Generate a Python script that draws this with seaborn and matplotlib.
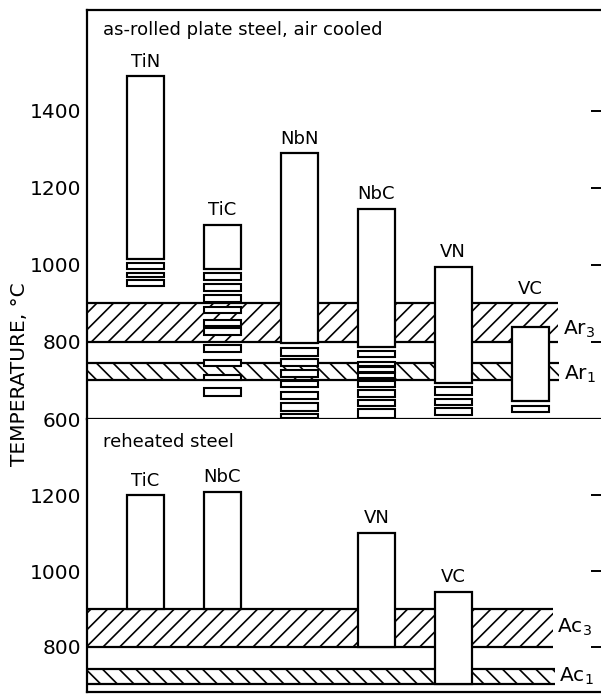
import matplotlib
matplotlib.use("Agg")
from matplotlib import pyplot as plt
import seaborn as sns

# as-rolled plate steel, air cooled
top_names = ["TiN", "TiC", "NbN", "NbC", "VN", "VC"]
top_upper = [1490, 1105, 1290, 1145, 995, 840]
top_lower = [1015, 990, 797, 787, 693, 648]
top_stripes = {
	"TiN": [(990, 1005), (969, 979), (945, 961)],
	"TiC": [(960, 979), (932, 951), (904, 922), (875, 891), (842, 857),
			(818, 836), (774, 792), (738, 753), (701, 714), (660, 681)],
	"NbN": [(764, 784), (738, 756), (709, 727), (683, 699), (652, 670), (621, 642), (602, 613)],
	"NbC": [(761, 777), (738, 748), (722, 735), (706, 720), (683, 699), (657, 675), (634, 649), (603, 626)],
	"VN": [(662, 683), (636, 652), (610, 629)],
	"VC": [(618, 634)],
}

# reheated steel
bottom_names = ["TiC", "NbC", "VN", "VC"]
bottom_slots = [0, 1, 3, 4]
bottom_upper = [1200, 1210, 1100, 945]
bottom_lower = [900, 900, 800, 700]

# transformation ranges
ar3 = (800, 900)
ar1 = (700, 745)
ac3 = (800, 900)
ac1 = (700, 740)

XMIN, XMAX = -0.76, 5.92
WIDTH = 0.48
LW = 1.6


def draw_band(ax, band, x_end, hatch, label, label_y):
	lo, hi = band
	ax.fill_between([XMIN, x_end], lo, hi, facecolor="none", edgecolor="black",
					hatch=hatch, linewidth=0, zorder=1)
	ax.hlines([lo, hi], XMIN, x_end, color="black", lw=LW, zorder=1.5)
	ax.text(x_end + 0.06, label_y, label, fontsize=14.5, va="baseline", ha="left")


def draw_bars(ax, slots, names, lower, upper, band_top):
	heights = [u - l for u, l in zip(upper, lower)]
	ax.bar(slots, heights, bottom=lower, width=WIDTH, color="white",
		   edgecolor="black", linewidth=LW, zorder=3)
	for x, name, u in zip(slots, names, upper):
		ax.annotate(name, (x, max(u, band_top)), xytext=(0, 7), textcoords="offset points",
					ha="center", va="baseline", fontsize=13)


def style_axis(ax, ylim, yticks):
	ax.set_xlim(XMIN, XMAX)
	ax.set_ylim(*ylim)
	ax.set_xticks([])
	ax.set_yticks(yticks)
	ax.tick_params(axis="y", direction="in", length=11, width=1.4, labelsize=14.5,
				   pad=4, right=True, labelright=False, colors="black")
	for t in ax.yaxis.get_major_ticks():
		t.tick2line.set_markersize(7.5)
	ax.spines["right"].set_visible(False)
	for s in ("left", "top", "bottom"):
		ax.spines[s].set_linewidth(LW)
		ax.spines[s].set_color("black")


sns.set_style("white")
plt.rcParams.update({
	"font.family": ["DejaVu Sans"],
	"text.color": "black",
	"ytick.color": "black",
	"mathtext.default": "regular",
	"hatch.linewidth": 1.2,
	"hatch.color": "black",
})

fig = plt.figure(figsize=(6.01, 6.94), dpi=100)
ax1 = fig.add_axes([87 / 601, 1 - 419 / 694, 514 / 601, 409 / 694])
ax2 = fig.add_axes([87 / 601, 2 / 694, 514 / 601, 273 / 694])

# top panel
top_slots = list(range(len(top_names)))
draw_band(ax1, ar3, 5.36, "//", "Ar$_3$", 818)
draw_band(ax1, ar1, 5.38, "\\\\", "Ar$_1$", 701)
draw_bars(ax1, top_slots, top_names, top_lower, top_upper, ar3[1])
for x, name in zip(top_slots, top_names):
	lo = [a for a, b in top_stripes[name]]
	h = [b - a for a, b in top_stripes[name]]
	ax1.bar([x] * len(lo), h, bottom=lo, width=WIDTH, color="white",
			edgecolor="black", linewidth=1.5, zorder=3)
style_axis(ax1, (600, 1662), [600, 800, 1000, 1200, 1400])
ax1.text(0.031, 0.973, "as-rolled plate steel, air cooled", transform=ax1.transAxes,
		 va="top", ha="left", fontsize=13)

# bottom panel
draw_band(ax2, ac3, 5.29, "//", "Ac$_3$", 837)
draw_band(ax2, ac1, 5.32, "\\\\", "Ac$_1$", 707)
draw_bars(ax2, bottom_slots, bottom_names, bottom_lower, bottom_upper, ac3[1])
style_axis(ax2, (680, 1402), [800, 1000, 1200])
ax2.spines["top"].set_visible(False)
ax2.text(0.031, 0.949, "reheated steel", transform=ax2.transAxes,
		 va="top", ha="left", fontsize=13)

fig.text(20 / 601, 1 - 374 / 694, "TEMPERATURE, °C", rotation=90,
		 ha="center", va="center", fontsize=14.5)

fig.savefig("out.png", dpi=100)
